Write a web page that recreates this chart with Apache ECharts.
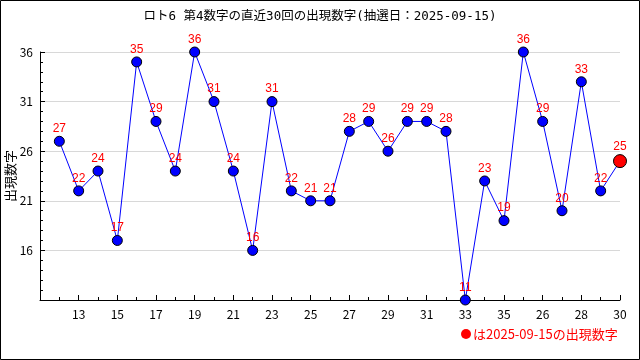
<!DOCTYPE html>
<html>
<head>
<meta charset="utf-8">
<script src="https://cdn.jsdelivr.net/npm/echarts@6/dist/echarts.min.js"></script>
<style>
html,body{margin:0;padding:0;background:#fff;}
#c{width:640px;height:360px;}
</style>
</head>
<body>
<div id="c"></div>
<script>
// Draw labels (x-axis categories), one per draw, oldest first
const draws = ['12','13','14','15','16','17','18','19','20','21','22','23','24','25','26','27','28','29','30','31','32','33','34','35','25','26','27','28','29','30'];
// 4th number for each draw
const values = [27,22,24,17,35,29,24,36,31,24,16,31,22,21,21,28,29,26,29,29,28,11,23,19,36,29,20,33,22,25];
const yTicks = [16,21,26,31,36];
const titleText = 'ロト6 第4数字の直近30回の出現数字(抽選日：2025-09-15)';
const yName = '出現数字';
const noteText = 'は2025-09-15の出現数字';

const seriesData = values.map((v, i) => {
  const last = i === values.length - 1;
  return {
    value: [i + 1, v],
    symbolSize: last ? 13 : 10,
    itemStyle: last ? {color: '#ff0000', borderColor: '#000', borderWidth: 1} : undefined
  };
});

const chart = echarts.init(document.getElementById('c'), null, {renderer: 'canvas'});
const mono = '"Noto Sans CJK JP", "DejaVu Sans Mono", monospace';
const titleFont = '"DejaVu Sans Mono", "Noto Sans CJK JP", monospace';
chart.setOption({
  animation: false,
  backgroundColor: '#fff',
  title: {
    text: titleText,
    left: 'center',
    top: 5,
    textStyle: {fontFamily: titleFont, fontSize: 12.5, fontWeight: 'normal', color: '#000'}
  },
  grid: {left: 40, right: 20, top: 52, bottom: 60, outerBoundsMode: 'none', containLabel: false},
  xAxis: {
    type: 'value',
    min: 0,
    max: draws.length,
    interval: 2,
    axisLine: {show: true, lineStyle: {color: '#000', width: 1}},
    axisTick: {show: true, inside: true, length: 5, lineStyle: {color: '#000'}},
    minorTick: {show: true, splitNumber: 2, length: 3, lineStyle: {color: '#000'}},
    splitLine: {show: false},
    axisLabel: {
      margin: 8,
      color: '#000',
      fontFamily: mono,
      fontSize: 12,
      formatter: v => (v >= 1 && v <= draws.length) ? draws[v - 1] : ''
    }
  },
  yAxis: {
    type: 'value',
    min: 11,
    max: 36,
    interval: 5,
    axisLine: {show: true, lineStyle: {color: '#000', width: 1}},
    axisTick: {show: true, inside: true, length: 5, lineStyle: {color: '#000'}},
    minorTick: {show: true, splitNumber: 5, length: 3, lineStyle: {color: '#000'}},
    splitLine: {show: true, lineStyle: {color: '#d8d8d8', width: 1}},
    axisLabel: {
      margin: 7,
      color: '#000',
      fontFamily: mono,
      fontSize: 12,
      formatter: v => yTicks.includes(v) ? String(v) : ''
    }
  },
  series: [{
    type: 'line',
    data: seriesData,
    symbol: 'circle',
    symbolSize: 10,
    lineStyle: {color: '#0000ff', width: 1},
    itemStyle: {color: '#0000ff', borderColor: '#000', borderWidth: 1},
    label: {
      show: true,
      position: 'top',
      distance: 1,
      color: '#ff0000',
      fontFamily: '"Liberation Sans", Arial, sans-serif',
      fontSize: 12,
      formatter: p => String(p.value[1])
    },
    z: 3
  }],
  graphic: [
    {type: 'rect', shape: {x: 0.5, y: 0.5, width: 639, height: 359}, style: {fill: 'none', stroke: '#000', lineWidth: 1}, z: 100},
    {type: 'text', x: 10, y: 176, rotation: Math.PI / 2, style: {text: yName, fill: '#000', fontFamily: mono, fontSize: 13, align: 'center', verticalAlign: 'middle'}},
    {type: 'circle', shape: {cx: 466, cy: 334, r: 5}, style: {fill: '#ff0000'}},
    {type: 'text', x: 473, y: 334, style: {text: noteText, fill: '#ff0000', fontFamily: mono, fontSize: 13, verticalAlign: 'middle', align: 'left'}}
  ]
});
</script>
</body>
</html>
